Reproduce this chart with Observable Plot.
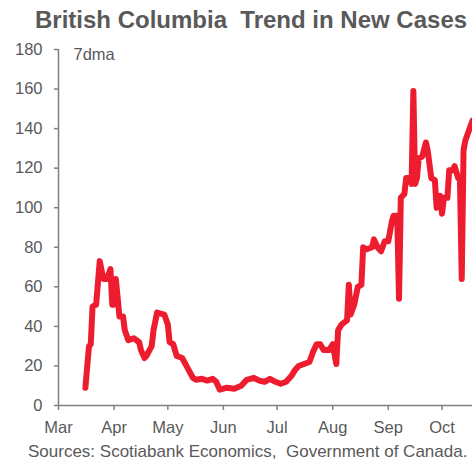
<!DOCTYPE html>
<html>
<head>
<meta charset="utf-8">
<script src="https://cdn.jsdelivr.net/npm/d3@7"></script>
<script src="https://cdn.jsdelivr.net/npm/@observablehq/plot@0.6"></script>
<style>
  body { margin: 0; background: #fff; font-family: "Liberation Sans", Arial, sans-serif; }
  #wrap { position: relative; width: 472px; height: 466px; overflow: hidden; }
  #title { position: absolute; left: 35px; top: 8px; font-size: 24px; font-weight: bold; line-height: 1; color: #595959; white-space: pre; }
  #chart { position: absolute; left: 0; top: 40px; }
  #caption { position: absolute; left: 28px; top: 443px; font-size: 17px; line-height: 1; color: #595959; white-space: pre; }
</style>
</head>
<body>
<div id="wrap">
  <div id="title">British Columbia  Trend in New Cases</div>
  <div id="chart"></div>
  <div id="caption">Sources: Scotiabank Economics,  Government of Canada.</div>
</div>
<script>
// 7-day moving average of new COVID-19 cases, British Columbia, 2020
const dates = [
  "2020-03-16","2020-03-18","2020-03-19","2020-03-20","2020-03-22","2020-03-24","2020-03-26","2020-03-28","2020-03-30","2020-03-31",
  "2020-04-01","2020-04-02","2020-04-04","2020-04-06","2020-04-07","2020-04-09","2020-04-12","2020-04-15","2020-04-16","2020-04-18",
  "2020-04-19","2020-04-22","2020-04-23","2020-04-25","2020-04-29","2020-05-01","2020-05-02","2020-05-04","2020-05-06","2020-05-09",
  "2020-05-12","2020-05-15","2020-05-17","2020-05-20","2020-05-23","2020-05-26","2020-05-28","2020-05-30","2020-06-03","2020-06-07",
  "2020-06-11","2020-06-14","2020-06-18","2020-06-21","2020-06-24","2020-06-27","2020-06-30","2020-07-03","2020-07-06","2020-07-09",
  "2020-07-11","2020-07-13","2020-07-16","2020-07-19","2020-07-21","2020-07-23","2020-07-25","2020-07-27","2020-07-30","2020-08-01",
  "2020-08-03","2020-08-04","2020-08-06","2020-08-09","2020-08-10","2020-08-11","2020-08-13","2020-08-15","2020-08-17","2020-08-18",
  "2020-08-20","2020-08-23","2020-08-24","2020-08-26","2020-08-28","2020-08-30","2020-09-01","2020-09-02","2020-09-03","2020-09-04",
  "2020-09-06","2020-09-07","2020-09-08","2020-09-10","2020-09-11","2020-09-13","2020-09-14","2020-09-15","2020-09-16","2020-09-17",
  "2020-09-18","2020-09-20","2020-09-22","2020-09-23","2020-09-25","2020-09-27","2020-09-28","2020-09-30","2020-10-01","2020-10-02",
  "2020-10-04","2020-10-05","2020-10-07","2020-10-08","2020-10-10","2020-10-11","2020-10-12","2020-10-13","2020-10-14","2020-10-16",
  "2020-10-18"
];
const cases = [
  9, 30, 31, 50, 51, 73, 64, 64, 69, 51,
  51, 64, 45, 45, 38, 33, 34, 32, 28, 24,
  25, 30, 38, 47, 46, 41, 32, 31, 25, 24,
  19, 14, 13, 13.5, 12.6, 13.5, 12, 8, 9, 8.5,
  10, 13, 14, 12.6, 12, 13.5, 12, 11, 12, 15,
  18, 20, 21, 22, 27, 31, 31, 28, 28, 31,
  21, 38, 41, 43, 61, 46, 51, 60, 61, 80,
  79, 80, 84, 80, 78, 83, 83, 88, 93, 96,
  96, 54, 105, 107, 115, 115, 112, 159, 112, 115,
  125, 126, 133, 129, 115, 114, 100, 106, 97, 105,
  105, 119, 119, 121, 115, 114, 64, 129, 134, 139,
  144
];
const monthTicks = ["2020-03-01","2020-04-01","2020-05-01","2020-06-01","2020-07-01","2020-08-01","2020-09-01","2020-10-01"];
const yTicks = [0, 20, 40, 60, 80, 100, 120, 140, 160, 180];
const seriesLabel = "7dma";

const rows = dates.map((d, i) => ({date: new Date(d), value: cases[i]}));
const xDomain = [new Date("2020-03-01"), new Date("2020-10-18")];
const axisGrey = "#7f7f7f";
const textGrey = "#595959";

const chart = Plot.plot({
  width: 472,
  height: 400,
  marginTop: 9,
  marginBottom: 35,
  marginLeft: 58,
  marginRight: 0,
  style: {
    fontFamily: "'Liberation Sans', Arial, sans-serif",
    fontSize: "16.5px",
    color: textGrey,
    background: "transparent",
    overflow: "visible"
  },
  x: {type: "utc", domain: xDomain},
  y: {domain: [0, 180]},
  marks: [
    Plot.axisY({ticks: yTicks, tickSize: 4, tickPadding: 12, stroke: axisGrey, fill: textGrey, strokeWidth: 1.5, label: null}),
    Plot.axisX({ticks: monthTicks.map(d => new Date(d)), tickFormat: d3.utcFormat("%b"), tickSize: 5, tickPadding: 11, stroke: axisGrey, fill: textGrey, strokeWidth: 1.5, label: null}),
    Plot.ruleX([xDomain[0]], {y1: 0, y2: 180, stroke: axisGrey, strokeWidth: 1.5}),
    Plot.ruleY([0], {stroke: axisGrey, strokeWidth: 1.5}),
    Plot.line(rows, {x: "date", y: "value", stroke: "#ed1c2e", strokeWidth: 6, strokeLinejoin: "round", strokeLinecap: "round"}),
    Plot.text([seriesLabel], {frameAnchor: "top-left", dx: 15, dy: 5, textAnchor: "start", lineAnchor: "middle", fill: textGrey})
  ]
});
document.getElementById("chart").appendChild(chart);
</script>
</body>
</html>
